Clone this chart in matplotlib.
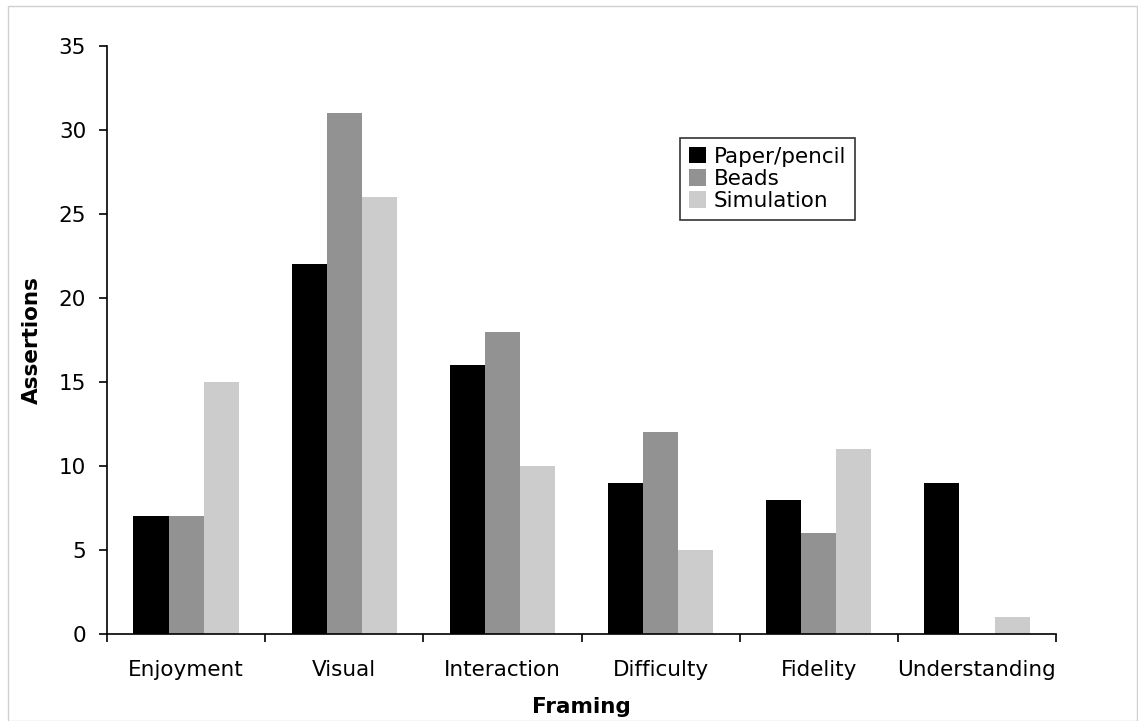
import matplotlib.pyplot as plt
import numpy as np
from matplotlib.patches import Rectangle

categories = ['Enjoyment', 'Visual', 'Interaction', 'Difficulty', 'Fidelity', 'Understanding']
paper_pencil = [7, 22, 16, 9, 8, 9]
beads = [7, 31, 18, 12, 6, 0]
simulation = [15, 26, 10, 5, 11, 1]

series = [('Paper/pencil', paper_pencil, '#000000'),
          ('Beads', beads, '#929292'),
          ('Simulation', simulation, '#cccccc')]

fs = 15.5

fig = plt.figure(figsize=(11.38, 7.21), dpi=100)
ax = fig.add_axes([0.094, 0.1207, 0.834, 0.8155])

# light frame around the whole figure
fig.patches.append(Rectangle((0.007, 0.0), 0.992, 0.992, transform=fig.transFigure,
                             fill=False, edgecolor='#d0d0d0', linewidth=1))

x = np.arange(len(categories)) + 0.5
w = 0.222
for i, (name, vals, color) in enumerate(series):
    ax.bar(x + (i - 1) * w, vals, width=w, color=color, label=name)

ax.set_xlim(0, len(categories))
ax.set_ylim(0, 35)
ax.set_yticks(range(0, 36, 5))
ax.set_xticks(x)
ax.set_xticklabels(categories)
ax.set_xticks(np.arange(len(categories) + 1), minor=True)
ax.tick_params(axis='x', which='major', length=0, pad=19, labelsize=fs)
ax.tick_params(axis='x', which='minor', length=6, width=1.2, direction='out')
ax.tick_params(axis='y', length=6, width=1.2, direction='out', labelsize=fs, pad=9)

for s in ['top', 'right']:
    ax.spines[s].set_visible(False)
for s in ['left', 'bottom']:
    ax.spines[s].set_linewidth(1.2)

ax.set_xlabel('Framing', fontsize=fs, fontweight='bold', labelpad=12)
ax.set_ylabel('Assertions', fontsize=fs, fontweight='bold', labelpad=12)

leg = ax.legend(loc='upper left', bbox_to_anchor=(0.604, 0.8435), fontsize=fs,
                frameon=True, fancybox=False, handlelength=0.8, handleheight=0.8,
                handletextpad=0.35, labelspacing=0.1, borderpad=0.4, borderaxespad=0)
leg.get_frame().set_edgecolor('black')
leg.get_frame().set_linewidth(1.2)

fig.savefig('out.png', dpi=100)
